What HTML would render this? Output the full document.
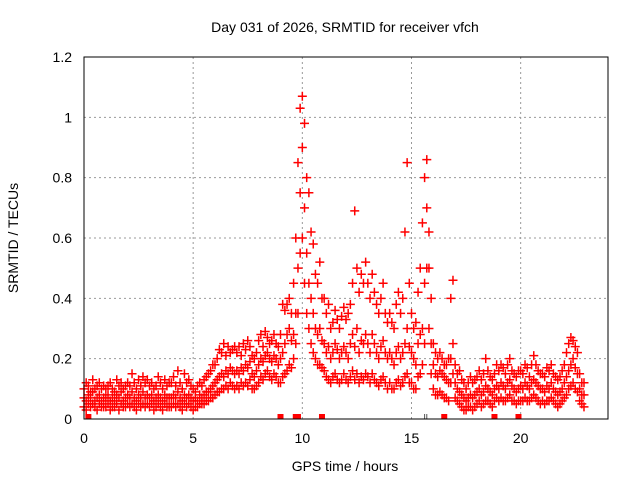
<!DOCTYPE html>
<html><head><meta charset="utf-8"><style>
body{margin:0;background:#fff}
svg{display:block;font-family:"Liberation Sans",sans-serif}
</style></head><body>
<svg id="chart" width="640" height="480">
<text x="345" y="32" text-anchor="middle" font-size="14">Day 031 of 2026, SRMTID for receiver vfch</text>
<text x="345" y="471" text-anchor="middle" font-size="14">GPS time / hours</text>
<text transform="translate(18,238) rotate(-90)" text-anchor="middle" font-size="14">SRMTID / TECUs</text>
<g id="grid"></g><g id="ticks"></g><g id="pts"></g>
<rect x="84" y="57" width="524" height="362" fill="none" stroke="#000" stroke-width="1"/>
</svg>
<script>
const xTicks=[0,5,10,15,20];
const yTicks=[0,0.2,0.4,0.6,0.8,1,1.2];
const yTickLabels=["0","0.2","0.4","0.6","0.8","1","1.2"];
const tStart=0, tStep=0.1;
const vMid=[.07,.06,.08,.07,.09,.06,.07,.08,.06,.07,
.07,.08,.06,.07,.06,.08,.07,.09,.06,.07,
.08,.07,.09,.07,.06,.08,.07,.09,.07,.08,
.07,.08,.06,.07,.08,.07,.06,.08,.07,.07,
.07,.08,.07,.09,.07,.06,.08,.07,.08,.07,
.06,.07,.06,.08,.07,.08,.09,.09,.10,.11,
.12,.13,.14,.15,.14,.16,.15,.17,.16,.15,
.16,.15,.17,.16,.18,.17,.19,.15,.14,.16,
.18,.20,.19,.21,.22,.20,.19,.21,.20,.18,
.20,.22,.25,.28,.30,.26,.28,.35,.50,.75,
.90,.70,.55,.45,.40,.35,.30,.28,.30,.26,
.25,.22,.24,.20,.22,.25,.23,.20,.22,.24,
.22,.20,.25,.28,.24,.30,.22,.26,.25,.28,
.25,.22,.28,.25,.22,.20,.24,.26,.22,.20,
.22,.20,.18,.22,.24,.20,.22,.25,.30,.24,
.22,.20,.18,.25,.28,.30,.45,.70,.50,.25,
.18,.15,.14,.16,.15,.14,.13,.12,.20,.25,
.12,.10,.09,.08,.07,.06,.07,.08,.07,.08,
.09,.10,.08,.09,.11,.10,.09,.08,.10,.11,
.10,.12,.11,.10,.12,.13,.11,.10,.09,.10,
.11,.10,.12,.11,.10,.12,.13,.12,.11,.10,
.10,.09,.11,.10,.12,.10,.09,.08,.09,.10,
.12,.14,.16,.18,.20,.17,.15,.10,.08,.08];
const vLow=[.04,.03,.05,.04,.05,.04,.03,.05,.04,.04,
.04,.05,.03,.04,.04,.05,.03,.05,.04,.04,
.05,.04,.05,.04,.03,.05,.04,.05,.04,.05,
.04,.05,.03,.04,.05,.04,.03,.05,.04,.04,
.04,.05,.04,.05,.04,.03,.05,.04,.05,.04,
.03,.04,.04,.05,.05,.05,.06,.06,.07,.07,
.08,.09,.09,.10,.10,.11,.10,.12,.11,.10,
.11,.10,.12,.11,.12,.11,.13,.10,.10,.11,
.12,.14,.13,.15,.16,.14,.13,.15,.14,.12,
.12,.14,.15,.16,.18,.17,.20,.25,.35,.55,
.60,.45,.35,.30,.25,.22,.20,.18,.18,.17,
.16,.14,.13,.12,.14,.15,.13,.12,.13,.15,
.13,.12,.14,.16,.13,.15,.12,.14,.13,.15,
.14,.12,.15,.13,.12,.11,.13,.14,.12,.10,
.12,.10,.10,.12,.13,.11,.12,.14,.15,.12,
.12,.10,.10,.14,.15,.18,.25,.50,.30,.15,
.10,.08,.08,.09,.08,.07,.07,.06,.12,.15,
.07,.06,.05,.04,.03,.03,.04,.04,.03,.04,
.05,.06,.04,.05,.06,.06,.05,.04,.06,.07,
.06,.07,.06,.06,.07,.08,.06,.06,.05,.06,
.06,.06,.07,.06,.06,.07,.08,.07,.06,.05,
.06,.05,.06,.06,.07,.06,.05,.04,.05,.06,
.07,.08,.10,.11,.12,.10,.09,.06,.05,.04];
const vHigh=[.10,.12,.11,.09,.13,.10,.11,.12,.10,.11,
.10,.11,.12,.10,.09,.13,.11,.12,.10,.11,
.12,.11,.15,.12,.10,.13,.11,.14,.12,.13,
.11,.12,.10,.11,.14,.12,.10,.13,.11,.12,
.12,.14,.11,.16,.12,.10,.15,.12,.13,.11,
.10,.09,.11,.12,.11,.13,.14,.15,.16,.18,
.18,.20,.23,.22,.25,.21,.24,.22,.23,.24,
.22,.24,.21,.25,.23,.26,.24,.21,.20,.22,
.26,.28,.24,.29,.27,.25,.26,.28,.25,.24,
.28,.38,.36,.38,.40,.35,.45,.60,.85,1.03,
1.07,.98,.80,.75,.62,.58,.48,.45,.52,.40,
.40,.35,.38,.30,.32,.36,.33,.30,.34,.37,
.33,.35,.38,.45,.69,.50,.42,.48,.45,.52,
.45,.40,.48,.42,.38,.35,.40,.45,.35,.32,
.35,.32,.30,.38,.42,.35,.40,.62,.85,.45,
.35,.30,.32,.42,.50,.65,.80,.86,.62,.40,
.25,.22,.20,.22,.20,.18,.18,.20,.40,.46,
.18,.15,.16,.13,.12,.10,.12,.14,.12,.13,
.14,.16,.13,.15,.20,.16,.14,.13,.15,.18,
.16,.18,.17,.15,.18,.20,.16,.15,.14,.16,
.16,.15,.18,.17,.14,.18,.21,.18,.16,.15,
.15,.14,.17,.16,.18,.15,.14,.13,.14,.16,
.18,.22,.25,.27,.26,.24,.22,.15,.12,.12];
const redMarks=[0.2,9.0,9.7,9.8,10.9,16.5,18.8,19.9];
const blackMarks=[15.6,15.7];

const NS="http://www.w3.org/2000/svg";
const X0=84,X1=608,Y0=419,Y1=57,XMAX=24,YMAX=1.2;
const sx=h=>X0+h/XMAX*(X1-X0);
const sy=v=>Y0-v/YMAX*(Y0-Y1);
function mk(tag,attrs,parent){const e=document.createElementNS(NS,tag);for(const k in attrs)e.setAttribute(k,attrs[k]);parent.appendChild(e);return e;}
const grid=document.getElementById('grid'),ticks=document.getElementById('ticks'),pts=document.getElementById('pts');
xTicks.forEach(h=>{
  const x=sx(h);
  if(h>0){const g=mk('line',{x1:x,x2:x,y1:Y1,y2:Y0,stroke:'#999','stroke-dasharray':'2,3'},grid);
    
    }
  const t=mk('text',{x:x,y:443,'text-anchor':'middle','font-size':14},ticks);t.textContent=String(h);
  
  
});
yTicks.forEach((v,i)=>{
  const y=sy(v);
  if(v>0&&v<YMAX){const g=mk('line',{x1:X0,x2:X1,y1:y,y2:y,stroke:'#999','stroke-dasharray':'2,3'},grid);
    
    }
  const t=mk('text',{x:72,y:y+5,'text-anchor':'end','font-size':14},ticks);t.textContent=yTickLabels[i];
  
  
});
function plus(x,y,c){
  const p=mk('path',{d:`M${x-4.5},${y}h9M${x},${y-4.5}v9`,stroke:c,'stroke-width':1.5,fill:'none'},pts);
  
  
}
[vLow,vMid,vHigh].forEach(arr=>arr.forEach((v,i)=>{plus(sx(tStart+i*tStep),sy(v),'#f00');}));
redMarks.forEach(h=>{const r=mk('rect',{x:sx(h)-3,y:Y0-5,width:6,height:5,fill:'#f00'},pts);
  
  });
blackMarks.forEach(h=>{const l=mk('line',{x1:sx(h),x2:sx(h),y1:Y0-5,y2:Y0,stroke:'#555'},pts);
  
  });
</script>
</body></html>
